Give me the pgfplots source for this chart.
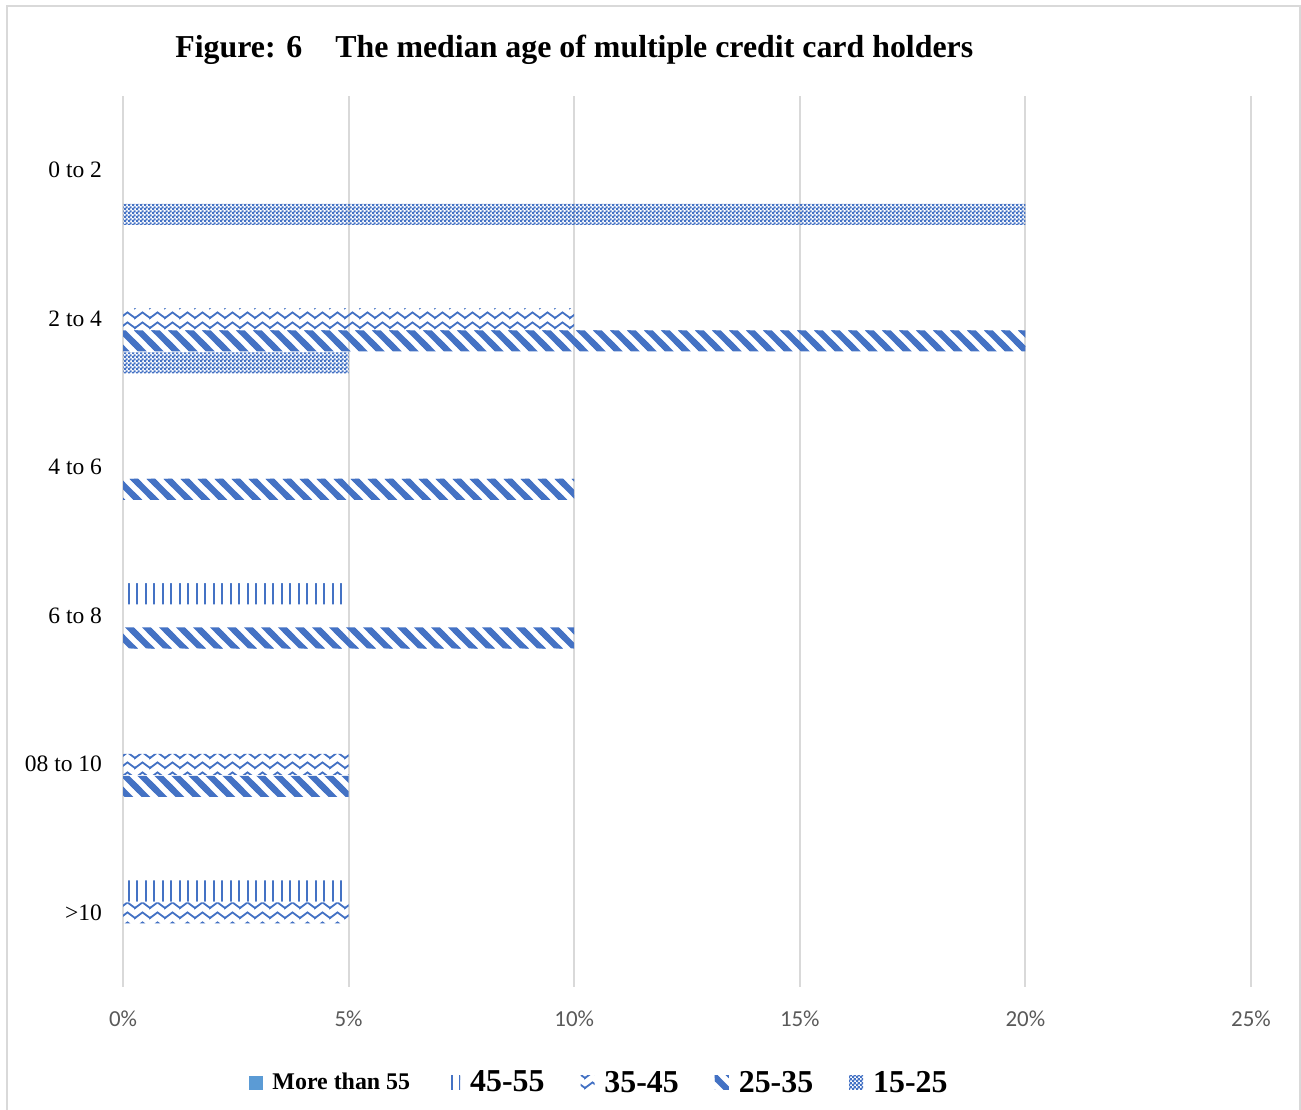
\documentclass[border=0pt]{standalone}
\usepackage{pgfplots}
\pgfplotsset{compat=1.18}
\usetikzlibrary{patterns}
\usepackage{fontspec}
\setmainfont{Liberation Serif}
\newfontfamily\carlito{Carlito}
\definecolor{c1}{HTML}{4472C4}
\definecolor{c2}{HTML}{5B9BD5}
\definecolor{gridc}{HTML}{D9D9D9}
\definecolor{tickc}{HTML}{595959}

% fine checker (15-25)
\pgfdeclarepatternformonly{mychecker}{\pgfqpoint{0bp}{0bp}}{\pgfqpoint{2bp}{2bp}}{\pgfqpoint{2bp}{2bp}}{%
  \pgfpathrectangle{\pgfqpoint{0bp}{0bp}}{\pgfqpoint{1.25bp}{1.25bp}}%
  \pgfpathrectangle{\pgfqpoint{1bp}{1bp}}{\pgfqpoint{1.25bp}{1.25bp}}%
  \pgfusepath{fill}}
% wide downward diagonal (25-35)
\pgfdeclarepatternformonly{mydiag}{\pgfqpoint{-1bp}{-1bp}}{\pgfqpoint{9.5bp}{9.5bp}}{\pgfqpoint{8.5bp}{8.5bp}}{%
  \pgfsetlinewidth{3.1bp}%
  \pgfpathmoveto{\pgfqpoint{-1bp}{9.5bp}}%
  \pgfpathlineto{\pgfqpoint{9.5bp}{-1bp}}%
  \pgfpathmoveto{\pgfqpoint{-2bp}{2bp}}%
  \pgfpathlineto{\pgfqpoint{2bp}{-2bp}}%
  \pgfpathmoveto{\pgfqpoint{6.5bp}{10.5bp}}%
  \pgfpathlineto{\pgfqpoint{10.5bp}{6.5bp}}%
  \pgfusepath{stroke}}
% zigzag (35-45)
\pgfdeclarepatternformonly{myzigzag}{\pgfqpoint{-0.5bp}{0bp}}{\pgfqpoint{8bp}{5bp}}{\pgfqpoint{7.5bp}{5bp}}{%
  \pgfsetlinewidth{0.9bp}%
  \pgfpathmoveto{\pgfqpoint{-0.75bp}{0.5bp}}%
  \pgfpathlineto{\pgfqpoint{0bp}{1bp}}%
  \pgfpathlineto{\pgfqpoint{3.75bp}{3.8bp}}%
  \pgfpathlineto{\pgfqpoint{7.5bp}{1bp}}%
  \pgfpathlineto{\pgfqpoint{8.25bp}{1.5bp}}%
  \pgfusepath{stroke}}
% vertical lines (45-55)
\pgfdeclarepatternformonly{myvert}{\pgfqpoint{0bp}{-1bp}}{\pgfqpoint{4.25bp}{9bp}}{\pgfqpoint{4.25bp}{8bp}}{%
  \pgfpathrectangle{\pgfqpoint{0bp}{-1bp}}{\pgfqpoint{1bp}{10bp}}%
  \pgfusepath{fill}}

\pgfplotsset{myleg/.style={legend image code/.code={\path[##1,draw=none] (0bp,-3.5bp) rectangle (7bp,3.5bp);}}}

\begin{document}
\begin{tikzpicture}
\path[use as bounding box] (0bp,0bp) rectangle (650.5bp,-555bp);
\draw[gridc, line width=1bp] (3.5bp,-560bp) -- (3.5bp,-3bp) -- (650bp,-3bp) -- (650bp,-560bp);
\node[anchor=base west, font=\bfseries\fontsize{16}{18}\selectfont, inner sep=0pt] at (87.5bp,-28.5bp) {Figure: 6};
\node[anchor=base west, font=\bfseries\fontsize{16}{18}\selectfont, inner sep=0pt] at (167.5bp,-28.5bp) {The median age of multiple credit card holders};
\begin{axis}[
  at={(61.5bp,-493.5bp)}, anchor=south west, scale only axis,
  width=564bp, height=445.5bp,
  xbar, bar width=10.5bp,
  xmin=0, xmax=25, ymin=-0.5, ymax=5.5, y dir=reverse,
  xtick={0,5,10,15,20,25},
  xticklabels={0\%,5\%,10\%,15\%,20\%,25\%},
  ytick={0,1,2,3,4,5},
  yticklabels={0 to 2,2 to 4,4 to 6,6 to 8,08 to 10,>10},
  xmajorgrids, grid style={gridc, line width=1bp},
  axis line style={draw=none}, major tick length=0pt,
  xticklabel style={font=\carlito\fontsize{11.5}{13}\selectfont, text=tickc, anchor=center, yshift=-16bp},
  yticklabel style={font=\fontsize{11.8}{14}\selectfont, anchor=east, xshift=-7bp},
  legend columns=5,
  legend style={at={(0.4229,-0.1077)}, anchor=center, draw=none, fill=none,
    font=\bfseries, inner sep=0pt,
    /tikz/every odd column/.append style={column sep=3bp},
    /tikz/every even column/.append style={column sep=16bp}},
]
\addlegendimage{myleg, fill=c2}
\addlegendentry{\fontsize{12}{14}\selectfont More than 55}
\addplot[xbar, bar shift=11bp, draw=none, pattern=myvert, pattern color=c1, myleg]
  coordinates {(5,3) (5,5)};
\addlegendentry{\fontsize{16}{18}\selectfont 45-55}
\addplot[xbar, bar shift=0bp, draw=none, pattern=myzigzag, pattern color=c1, myleg]
  coordinates {(10,1) (5,4) (5,5)};
\addlegendentry{\fontsize{16}{18}\selectfont 35-45}
\addplot[xbar, bar shift=-11bp, draw=none, pattern=mydiag, pattern color=c1, myleg]
  coordinates {(20,1) (10,2) (10,3) (5,4)};
\addlegendentry{\fontsize{16}{18}\selectfont 25-35}
\addplot[xbar, bar shift=-22bp, draw=none, pattern=mychecker, pattern color=c1, myleg]
  coordinates {(20,0) (5,1)};
\addlegendentry{\fontsize{16}{18}\selectfont 15-25}
\end{axis}
\end{tikzpicture}
\end{document}
